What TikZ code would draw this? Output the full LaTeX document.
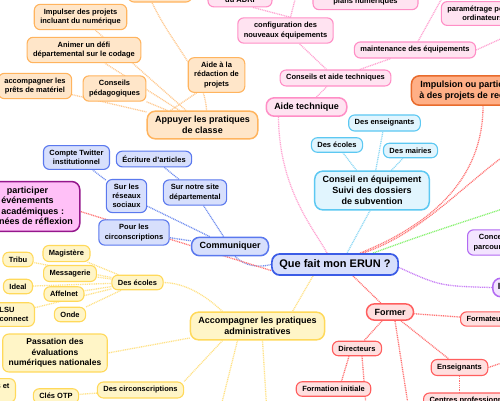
\documentclass[tikz,border=0pt]{standalone}
\usepackage{fontspec}
\setmainfont{Liberation Sans}
\usetikzlibrary{backgrounds}
\definecolor{orF}{HTML}{FFE6C9}
\definecolor{orB}{HTML}{FFB45E}
\definecolor{orE}{HTML}{FFC98F}
\definecolor{piF}{HTML}{FFE3F1}
\definecolor{piB}{HTML}{FF8EC6}
\definecolor{piE}{HTML}{FFA3D2}
\definecolor{cyF}{HTML}{E1F5FE}
\definecolor{cyB}{HTML}{5CC8F2}
\definecolor{cyE}{HTML}{8ED9F5}
\definecolor{blF}{HTML}{D7DFFC}
\definecolor{blB}{HTML}{5A78EE}
\definecolor{blE}{HTML}{7390F0}
\definecolor{qB}{HTML}{3B5CE6}
\definecolor{yeF}{HTML}{FFF5C7}
\definecolor{yeB}{HTML}{FFD95A}
\definecolor{yeE}{HTML}{FFE285}
\definecolor{reF}{HTML}{FFDFDF}
\definecolor{reB}{HTML}{FF5E5E}
\definecolor{reE}{HTML}{FF7474}
\definecolor{maF}{HTML}{FFC0F7}
\definecolor{maB}{HTML}{95178C}
\definecolor{saF}{HTML}{FFAF86}
\definecolor{saB}{HTML}{E86B2C}
\definecolor{laF}{HTML}{F3E4FF}
\definecolor{laB}{HTML}{B26AF2}
\definecolor{puE}{HTML}{C77DF6}
\definecolor{grE}{HTML}{86F26E}
\tikzset{
  mm/.style={draw, rounded corners=6pt, line width=1.1pt, align=center,
    inner xsep=6pt, inner ysep=4.5pt, font=\bfseries\fontsize{7.5}{9.3}\selectfont},
  lv/.style={mm, line width=1.5pt, inner xsep=8pt, inner ysep=5pt, rounded corners=8pt,
    font=\bfseries\fontsize{9}{11}\selectfont},
  orn/.style={fill=orF, draw=orB},
  pin/.style={fill=piF, draw=piB},
  cyn/.style={fill=cyF, draw=cyB},
  bln/.style={fill=blF, draw=blB},
  yen/.style={fill=yeF, draw=yeB},
  ren/.style={fill=reF, draw=reB},
  lk/.style={line width=1.3pt, dash pattern=on 1pt off 0.8pt},
}
\begin{document}
\begin{tikzpicture}[x=1pt, y=-1pt]
\useasboundingbox (0,0) rectangle (500,400);
\clip (0,0) rectangle (500,400);

% ---- orange branch
\node[mm, orn, minimum width=64pt, minimum height=22pt] (o0) at (160,-9) {};
\node[mm, orn] (impulser) at (80.5,17) {Impulser des projets\\incluant du numérique};
\node[mm, orn] (animer) at (84,50) {Animer un défi\\départemental sur le codage};
\node[mm, orn] (pret) at (35,86) {accompagner les\\prêts de matériel};
\node[mm, orn] (conspeda) at (114.5,88.5) {Conseils\\pédagogiques};
\node[mm, orn] (redac) at (216.5,75) {Aide à la\\rédaction de\\projets};
\node[lv, orn] (appuyer) at (202.5,125) {Appuyer les pratiques\\de classe};

% ---- pink branch
\node[mm, pin, minimum width=64pt] (adri) at (240,-5) {Participation\\du ADRI};
\node[mm, pin, minimum width=105pt] (plans) at (365.5,-3) {Accompagnement des\\plans numériques};
\node[mm, pin] (param) at (483,13.5) {paramétrage postes\\ordinateurs};
\node[mm, pin] (config) at (285.5,30.5) {configuration des\\nouveaux équipements};
\node[mm, pin] (maint) at (415,50) {maintenance des équipements};
\node[mm, pin] (conseilsT) at (335.5,78) {Conseils et aide techniques};
\node[lv, pin] (aidetech) at (306.5,107) {Aide technique};
\coordinate (up1) at (300,-20);
\coordinate (up2) at (452,-20);
\coordinate (rt1) at (525,28);

% ---- light blue branch
\node[mm, cyn] (ens) at (384.5,123) {Des enseignants};
\node[mm, cyn] (ecoles) at (337,145) {Des écoles};
\node[mm, cyn] (mairies) at (410.5,150.5) {Des mairies};
\node[lv, cyn] (conseilEq) at (372,190.5) {Conseil en équipement\\Suivi des dossiers\\de subvention};

% ---- communiquer branch
\node[mm, bln] (tw) at (76.5,157.5) {Compte Twitter\\institutionnel};
\node[mm, bln] (ecr) at (154,159) {Écriture d'articles};
\node[mm, bln] (res) at (126.5,196) {Sur les\\réseaux\\sociaux};
\node[mm, bln] (site) at (195,192.5) {Sur notre site\\départemental};
\node[mm, bln] (circ) at (134,232.5) {Pour les\\circonscriptions};
\node[lv, bln] (comm) at (230,246.5) {Communiquer};

% ---- magenta
\node[lv, fill=maF, draw=maB, font=\bfseries\fontsize{9}{10.5}\selectfont, inner xsep=7pt]
  (mag) at (27.5,206.5) {participer\\événements\\et académiques :\\journées de réflexion};

% ---- centre
\node[lv, fill=blF, draw=qB, line width=1.7pt, font=\bfseries\fontsize{11}{13}\selectfont,
  inner xsep=7.5pt, inner ysep=5.5pt] (que) at (335,264.5) {Que fait mon ERUN ?};

% ---- right side
\node[lv, fill=saF, draw=saB] (impuls) at (476.5,90.5) {Impulsion ou participation\\à des projets de recherche};
\node[mm, fill=laF, draw=laB, anchor=west] (conc) at (467,242.5) {Concevoir des\\parcours en ligne};
\node[lv, fill=laF, draw=laB, anchor=west, inner xsep=5pt] (pur) at (492,287.5) {Ingénierie pédagogique};
\coordinate (rt2) at (530,138);
\coordinate (rt3) at (530,200);

% ---- former branch
\node[lv, ren] (former) at (390,312) {Former};
\node[mm, ren, anchor=west] (formateurs) at (460,319) {Formateurs};
\node[mm, ren] (dir) at (357,348.5) {Directeurs};
\node[mm, ren] (init) at (333.5,389) {Formation initiale};
\node[mm, ren] (ensF) at (459.5,367.5) {Enseignants};
\node[mm, ren, anchor=west] (centres) at (423,401) {Centres professionnels};
\coordinate (dn1) at (412,430);
\coordinate (dn2) at (368,430);
\coordinate (rt4) at (525,355);

% ---- yellow branch
\node[lv, yen] (acc) at (257.5,326) {Accompagner les pratiques\\administratives};
\node[mm, yen] (yecoles) at (137.5,282.5) {Des écoles};
\node[mm, yen] (magis) at (66.5,253.5) {Magistère};
\node[mm, yen] (tribu) at (18,259.5) {Tribu};
\node[mm, yen] (mess) at (70,273.5) {Messagerie};
\node[mm, yen] (ideal) at (18,286.5) {Ideal};
\node[mm, yen] (affel) at (64,294) {Affelnet};
\node[mm, yen, anchor=east] (lsu) at (35,314.5) {LSU\\Educonnect};
\node[mm, yen] (onde) at (70,314.5) {Onde};
\node[mm, yen, font=\bfseries\fontsize{8.5}{10.5}\selectfont] (pass) at (55,353) {Passation des\\évaluations\\numériques nationales};
\node[mm, yen] (ycirc) at (140.5,390) {Des circonscriptions};
\node[mm, yen] (otp) at (56,396) {Clés OTP};
\node[mm, yen, anchor=east] (yetc) at (16,390.5) {Tablettes et\\ENT C};
\coordinate (dn3) at (215,430);
\coordinate (dn4) at (268,430);

\begin{pgfonlayer}{background}
\fill[white] (0,0) rectangle (500,400);
% orange
\draw[lk, orE] (appuyer) -- (impulser);
\draw[lk, orE] (appuyer) -- (animer);
\draw[lk, orE] (appuyer) -- (pret);
\draw[lk, orE] (appuyer) -- (conspeda);
\draw[lk, orE] ([xshift=-32pt]appuyer.north) -- ([xshift=-20pt]redac.south);
\draw[lk, orE] ([xshift=4pt]appuyer.north) .. controls (205,75) and (172,45) .. ([xshift=-8pt]o0.south);
% pink
\draw[lk, piE] ([xshift=-28pt]aidetech.south) .. controls (279,190) and (315,230) .. ([xshift=-8pt]que.north);
\draw[lk, piE] (aidetech) -- (conseilsT);
\draw[lk, piE] (conseilsT) -- (config);
\draw[lk, piE] (conseilsT) -- (maint);
\draw[lk, piE] ([xshift=5pt]config.north) -- ([xshift=13pt]adri.south);
\draw[lk, piE] ([xshift=5pt]config.north) -- (up1);
\draw[lk, piE] ([xshift=3pt]maint.north) -- (up2);
\draw[lk, piE] (maint.east) -- (rt1);
% light blue
\draw[lk, cyE] ([xshift=-2pt]conseilEq.south) -- ([xshift=12pt]que.north);
\draw[lk, cyE] (conseilEq) -- (ens);
\draw[lk, cyE] (conseilEq) -- (ecoles);
\draw[lk, cyE] (conseilEq) -- (mairies);
% blue
\draw[lk, blE] ([xshift=5pt]comm.south) .. controls (245,266) and (258,268) .. (que.west);
\draw[lk, blE] (comm) -- (res);
\draw[lk, blE] (comm) -- (site);
\draw[lk, blE] (comm) -- (circ);
\draw[lk, blE] (res) -- (tw);
\draw[lk, blE] (site) -- (ecr);
% red and others
\draw[lk, reE] ([yshift=-6pt]que.west) -- ([yshift=-5pt]mag.east);
\draw[lk, reE] ([xshift=25pt]que.north) .. controls (430,225) and (483,180) .. ([xshift=6.5pt]impuls.south);
\draw[lk, reE] ([xshift=28pt]que.north) .. controls (430,230) and (470,175) .. (rt2);
\draw[lk, grE] ([xshift=38pt]que.north) .. controls (420,236) .. (rt3);
\draw[lk, puE] ([yshift=-3pt]que.east) .. controls (440,286) .. (pur.west);
\draw[lk, reE] ([xshift=18pt]que.south) -- (former);
\draw[lk, reE] (former) -- (formateurs);
\draw[lk, reE] (former) -- (dir);
\draw[lk, reE] (former) -- (ensF);
\draw[lk, reE] ([xshift=5pt]former.south) -- (dn1);
\draw[lk, reE] ([xshift=-8pt]dir.south) -- ([xshift=8pt]init.north);
\draw[lk, reE] ([xshift=5pt]dir.south) -- (dn2);
\draw[lk, reE] (ensF) -- (centres.north -| ensF);
\draw[lk, reE] (ensF.east) -- (rt4);
% yellow
\draw[lk, yeE] ([xshift=-22pt]que.south) -- ([xshift=35pt]acc.north);
\draw[lk, yeE] ([xshift=-35pt]acc.north) .. controls (205,295) and (185,283) .. (yecoles.east);
\draw[lk, yeE] (yecoles) -- (magis);
\draw[lk, yeE] (yecoles) -- (tribu);
\draw[lk, yeE] (yecoles) -- (mess);
\draw[lk, yeE] (yecoles) -- (ideal);
\draw[lk, yeE] (yecoles) -- (affel);
\draw[lk, yeE] (yecoles) -- (lsu);
\draw[lk, yeE] (yecoles) -- (onde);
\draw[lk, yeE] ([yshift=-12pt]acc.west) -- (pass.east);
\draw[lk, yeE] ([xshift=-35pt]acc.south) -- (ycirc.north east);
\draw[lk, yeE] (ycirc) -- (otp);
\draw[lk, yeE] ([xshift=-20pt]acc.south) -- (dn3);
\draw[lk, yeE] ([xshift=5pt]acc.south) -- (dn4);
\end{pgfonlayer}
\end{tikzpicture}
\end{document}
